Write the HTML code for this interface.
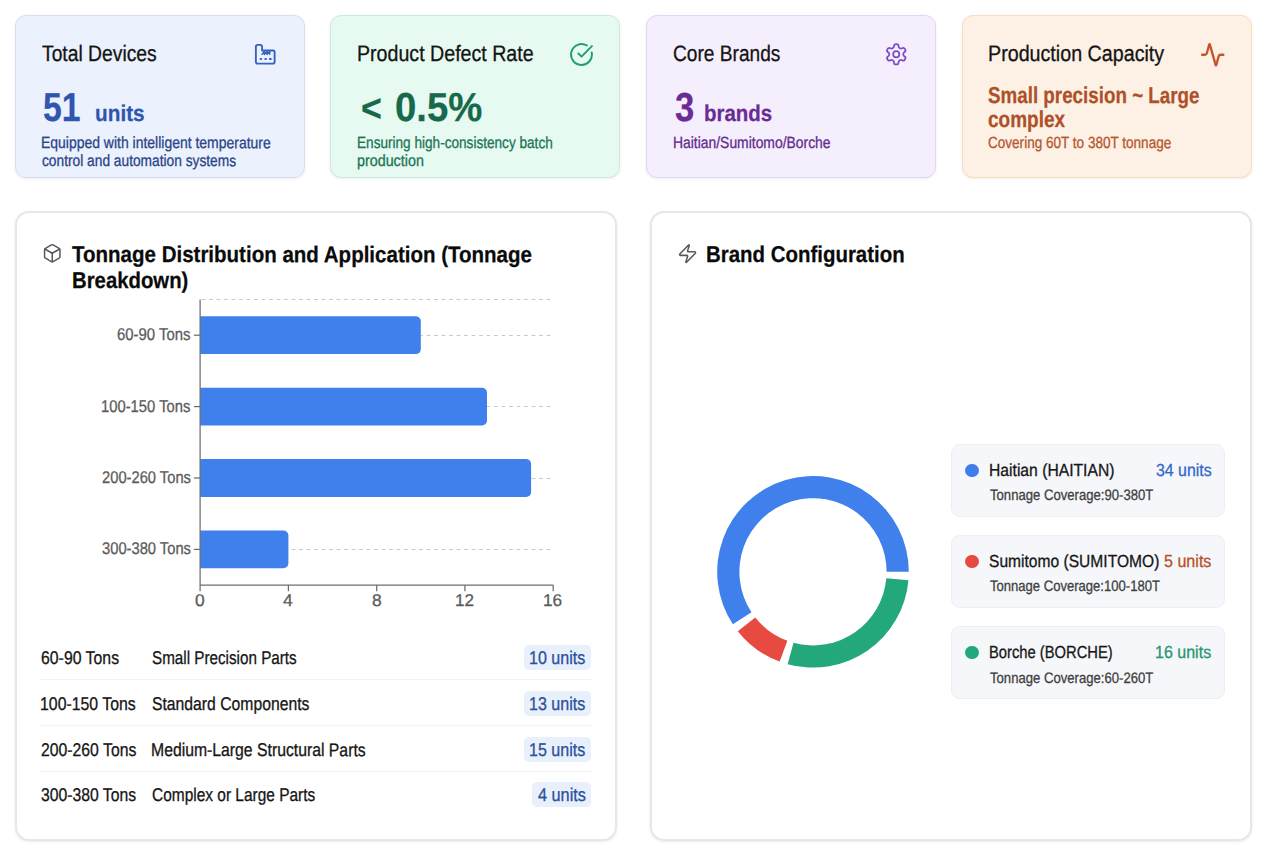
<!DOCTYPE html>
<html lang="en"><head><meta charset="utf-8"><title>Equipment Overview Dashboard</title>
<style>
html,body{margin:0;padding:0;background:#fff;}
body{width:1264px;height:848px;position:relative;overflow:hidden;font-family:"Liberation Sans",sans-serif;}
.card,.panel,.leg{position:absolute;box-sizing:border-box;border:1px solid;}
.card{border-radius:11px;box-shadow:0 1px 3px rgba(0,0,0,.07);}
.panel{border-width:2px;border-color:#e6e7ed;border-radius:14px;background:#fff;box-shadow:0 1px 3px rgba(0,0,0,.08);}
.leg{border-color:#eceef2;border-radius:9px;background:#f5f7fa;}
.t{position:absolute;white-space:pre;line-height:1;font-weight:400;transform-origin:0 0;}
.t.b{font-weight:700;}
.ico{position:absolute;display:block;fill:none;stroke-linecap:round;stroke-linejoin:round;}
.chart{position:absolute;display:block;}
.badge{position:absolute;height:25px;border-radius:5px;background:#e8f0fc;}
.div{position:absolute;width:550px;height:1px;background:#f2f3f5;}
.dot{position:absolute;width:13.6px;height:13.6px;border-radius:50%;}
</style></head><body>
<div class="card" style="left:15px;top:15px;width:290px;height:163px;background:#ecf2fd;border-color:#d7def2">
<svg class="ico" style="left:237.90px;top:27.05px;stroke:#3562c0;stroke-width:2.0" width="22.5" height="22.5" viewBox="0 0 24 24"><path d="M2 20a2 2 0 0 0 2 2h16a2 2 0 0 0 2-2V9.6A1.6 1.6 0 0 0 20.4 8H8.6V4a2 2 0 0 0-2-2H4a2 2 0 0 0-2 2Z"/><path d="M8.6 12.2l2.4-3.4v3.4l2.9-3.4v3.4l2.9-3.4v3.2" stroke-width="1.5"/><path d="M7 17h.8"/><path d="M12 17h.8"/><path d="M16.8 17h1.2"/></svg>
<span class="t" style="left:25.97px;top:26.98px;font-size:22.3px;color:#141414;-webkit-text-stroke:0.3px #141414;transform:matrix(0.8648,0.0006,0,1,0,0)">Total Devices</span>
<span class="t b" style="left:27.26px;top:70.94px;font-size:40.5px;color:#2f55b0;-webkit-text-stroke:0.25px #2f55b0;transform:matrix(0.8327,0.0006,0,1,0,0)">51</span>
<span class="t b" style="left:79.33px;top:86.04px;font-size:22.8px;color:#2f55b0;-webkit-text-stroke:0.25px #2f55b0;transform:matrix(0.9115,0.0006,0,1,0,0)">units</span>
<span class="t" style="left:25.32px;top:117.96px;font-size:16.2px;color:#2a4488;-webkit-text-stroke:0.3px #2a4488;transform:matrix(0.8624,0.0006,0,1,0,0)">Equipped with intelligent temperature</span>
<span class="t" style="left:25.76px;top:135.96px;font-size:16.2px;color:#2a4488;-webkit-text-stroke:0.3px #2a4488;transform:matrix(0.8493,0.0006,0,1,0,0)">control and automation systems</span>
</div>
<div class="card" style="left:330px;top:15px;width:290px;height:163px;background:#e7faf1;border-color:#c8ecdb">
<svg class="ico" style="left:238.05px;top:25.55px;stroke:#1f9f70;stroke-width:1.9" width="25" height="25" viewBox="0 0 24 24"><path d="M21.801 10A10 10 0 1 1 17 3.335"/><path d="m9 11 3 3L22 4"/></svg>
<span class="t" style="left:25.56px;top:26.98px;font-size:22.3px;color:#141414;-webkit-text-stroke:0.3px #141414;transform:matrix(0.8798,0.0006,0,1,0,0)">Product Defect Rate</span>
<span class="t b" style="left:29.59px;top:72.94px;font-size:38px;color:#17694b;-webkit-text-stroke:0.25px #17694b;transform:matrix(0.9403,0.0006,0,1,0,0)">&lt;</span>
<span class="t b" style="left:63.88px;top:70.94px;font-size:40.5px;color:#17694b;-webkit-text-stroke:0.25px #17694b;transform:matrix(0.9460,0.0006,0,1,0,0)">0.5%</span>
<span class="t" style="left:26.05px;top:117.96px;font-size:16.2px;color:#1b7553;-webkit-text-stroke:0.3px #1b7553;transform:matrix(0.8399,0.0006,0,1,0,0)">Ensuring high-consistency batch</span>
<span class="t" style="left:26.22px;top:135.96px;font-size:16.2px;color:#1b7553;-webkit-text-stroke:0.3px #1b7553;transform:matrix(0.8844,0.0006,0,1,0,0)">production</span>
</div>
<div class="card" style="left:646px;top:15px;width:290px;height:163px;background:#f5effd;border-color:#e3d5f6">
<svg class="ico" style="left:237.15px;top:26.05px;stroke:#7d4cc2;stroke-width:1.7" width="24.5" height="24.5" viewBox="0 0 24 24"><path d="M12.22 2h-.44a2 2 0 0 0-2 2v.18a2 2 0 0 1-1 1.73l-.43.25a2 2 0 0 1-2 0l-.15-.08a2 2 0 0 0-2.73.73l-.22.38a2 2 0 0 0 .73 2.73l.15.1a2 2 0 0 1 1 1.72v.51a2 2 0 0 1-1 1.74l-.15.09a2 2 0 0 0-.73 2.73l.22.38a2 2 0 0 0 2.73.73l.15-.08a2 2 0 0 1 2 0l.43.25a2 2 0 0 1 1 1.73V20a2 2 0 0 0 2 2h.44a2 2 0 0 0 2-2v-.18a2 2 0 0 1 1-1.73l.43-.25a2 2 0 0 1 2 0l.15.08a2 2 0 0 0 2.73-.73l.22-.39a2 2 0 0 0-.73-2.73l-.15-.08a2 2 0 0 1-1-1.74v-.5a2 2 0 0 1 1-1.74l.15-.09a2 2 0 0 0 .73-2.73l-.22-.38a2 2 0 0 0-2.73-.73l-.15.08a2 2 0 0 1-2 0l-.43-.25a2 2 0 0 1-1-1.73V4a2 2 0 0 0-2-2z"/><circle cx="12" cy="12" r="3"/></svg>
<span class="t" style="left:25.53px;top:26.98px;font-size:22.3px;color:#141414;-webkit-text-stroke:0.3px #141414;transform:matrix(0.8577,0.0006,0,1,0,0)">Core Brands</span>
<span class="t b" style="left:27.75px;top:70.94px;font-size:40.5px;color:#6a2b94;-webkit-text-stroke:0.25px #6a2b94;transform:matrix(0.8550,0.0006,0,1,0,0)">3</span>
<span class="t b" style="left:57.35px;top:86.04px;font-size:22.8px;color:#6a2b94;-webkit-text-stroke:0.25px #6a2b94;transform:matrix(0.8980,0.0006,0,1,0,0)">brands</span>
<span class="t" style="left:25.93px;top:117.96px;font-size:16.2px;color:#632b8e;-webkit-text-stroke:0.3px #632b8e;transform:matrix(0.8584,0.0006,0,1,0,0)">Haitian/Sumitomo/Borche</span>
</div>
<div class="card" style="left:962px;top:15px;width:290px;height:163px;background:#fdf1e5;border-color:#fadcbf">
<svg class="ico" style="left:236.75px;top:25.50px;stroke:#c4562a;stroke-width:2.2" width="25.5" height="25.5" viewBox="0 0 24 24"><path d="M22 12h-2.48a2 2 0 0 0-1.93 1.46l-2.35 8.36a.25.25 0 0 1-.48 0L9.24 2.18a.25.25 0 0 0-.48 0l-2.35 8.36A2 2 0 0 1 4.49 12H2"/></svg>
<span class="t" style="left:25.05px;top:26.98px;font-size:22.3px;color:#141414;-webkit-text-stroke:0.3px #141414;transform:matrix(0.8829,0.0006,0,1,0,0)">Production Capacity</span>
<span class="t b" style="left:25.49px;top:67.94px;font-size:23px;color:#ae5028;-webkit-text-stroke:0.25px #ae5028;transform:matrix(0.8171,0.0006,0,1,0,0)">Small precision ~ Large</span>
<span class="t b" style="left:25.27px;top:91.94px;font-size:23px;color:#ae5028;-webkit-text-stroke:0.25px #ae5028;transform:matrix(0.8261,0.0006,0,1,0,0)">complex</span>
<span class="t" style="left:25.47px;top:117.96px;font-size:16.2px;color:#b5562c;-webkit-text-stroke:0.3px #b5562c;transform:matrix(0.8368,0.0006,0,1,0,0)">Covering 60T to 380T tonnage</span>
</div>
<div class="panel" style="left:15px;top:211px;width:602px;height:630px;">
<svg class="ico" style="left:25.05px;top:30.25px;stroke:#55585e;stroke-width:1.75" width="20.5" height="20.5" viewBox="0 0 24 24"><path d="M21 8a2 2 0 0 0-1-1.73l-7-4a2 2 0 0 0-2 0l-7 4A2 2 0 0 0 3 8v8a2 2 0 0 0 1 1.73l7 4a2 2 0 0 0 2 0l7-4A2 2 0 0 0 21 16Z"/><path d="m3.3 7 8.7 5 8.7-5"/><path d="M12 22V12"/></svg>
<svg class="chart" style="left:173px;top:79px" width="372" height="302" viewBox="190 292 372 302">
<line x1="201.6" x2="552.2" y1="299.5" y2="299.5" stroke="#c3c7ce" stroke-width="1" stroke-dasharray="3.75 3.75"/>
<line x1="201.6" x2="552.2" y1="335.5" y2="335.5" stroke="#c3c7ce" stroke-width="1" stroke-dasharray="3.75 3.75"/>
<line x1="201.6" x2="552.2" y1="406.5" y2="406.5" stroke="#c3c7ce" stroke-width="1" stroke-dasharray="3.75 3.75"/>
<line x1="201.6" x2="552.2" y1="478.5" y2="478.5" stroke="#c3c7ce" stroke-width="1" stroke-dasharray="3.75 3.75"/>
<line x1="201.6" x2="552.2" y1="549.5" y2="549.5" stroke="#c3c7ce" stroke-width="1" stroke-dasharray="3.75 3.75"/>
<path d="M200.1,316.3H415.8A5,5 0 0 1 420.8,321.3V349.1A5,5 0 0 1 415.8,354.1H200.1Z" fill="#3f80ec"/>
<path d="M200.1,387.7H482.0A5,5 0 0 1 487.0,392.7V420.5A5,5 0 0 1 482.0,425.5H200.1Z" fill="#3f80ec"/>
<path d="M200.1,459.1H526.1A5,5 0 0 1 531.1,464.1V491.9A5,5 0 0 1 526.1,496.9H200.1Z" fill="#3f80ec"/>
<path d="M200.1,530.5H283.4A5,5 0 0 1 288.4,535.5V563.3A5,5 0 0 1 283.4,568.3H200.1Z" fill="#3f80ec"/>
<line x1="200.1" x2="200.1" y1="299.5" y2="585.1" stroke="#6e6e6e" stroke-width="1.25"/>
<line x1="200.1" x2="553.2" y1="585.1" y2="585.1" stroke="#6e6e6e" stroke-width="1.25"/>
<line x1="193.9" x2="200.1" y1="335.2" y2="335.2" stroke="#6e6e6e" stroke-width="1.25"/>
<line x1="193.9" x2="200.1" y1="406.6" y2="406.6" stroke="#6e6e6e" stroke-width="1.25"/>
<line x1="193.9" x2="200.1" y1="478.0" y2="478.0" stroke="#6e6e6e" stroke-width="1.25"/>
<line x1="193.9" x2="200.1" y1="549.4" y2="549.4" stroke="#6e6e6e" stroke-width="1.25"/>
<line x1="200.1" x2="200.1" y1="585.1" y2="591.3" stroke="#6e6e6e" stroke-width="1.25"/>
<line x1="288.4" x2="288.4" y1="585.1" y2="591.3" stroke="#6e6e6e" stroke-width="1.25"/>
<line x1="376.7" x2="376.7" y1="585.1" y2="591.3" stroke="#6e6e6e" stroke-width="1.25"/>
<line x1="464.9" x2="464.9" y1="585.1" y2="591.3" stroke="#6e6e6e" stroke-width="1.25"/>
<line x1="553.2" x2="553.2" y1="585.1" y2="591.3" stroke="#6e6e6e" stroke-width="1.25"/>
</svg>
<div class="badge" style="left:506.6px;top:432.0px;width:67.3px"></div>
<div class="div" style="left:24px;top:466px"></div>
<div class="badge" style="left:506.6px;top:477.7px;width:67.3px"></div>
<div class="div" style="left:24px;top:512px"></div>
<div class="badge" style="left:506.6px;top:523.5px;width:67.3px"></div>
<div class="div" style="left:24px;top:558px"></div>
<div class="badge" style="left:515.3px;top:569.3px;width:58.6px"></div>
<span class="t b" style="left:54.78px;top:29.99px;font-size:22.9px;color:#0a0a0a;-webkit-text-stroke:0.25px #0a0a0a;transform:matrix(0.8960,0.0006,0,1,0,0)">Tonnage Distribution and Application (Tonnage</span>
<span class="t b" style="left:54.67px;top:55.99px;font-size:22.9px;color:#0a0a0a;-webkit-text-stroke:0.25px #0a0a0a;transform:matrix(0.8881,0.0006,0,1,0,0)">Breakdown)</span>
<span class="t" style="left:100.04px;top:112.94px;font-size:17px;color:#5c5c5c;-webkit-text-stroke:0.3px #5c5c5c;transform:matrix(0.8764,0.0006,0,1,0,0)">60-90 Tons</span>
<span class="t" style="left:84.21px;top:184.94px;font-size:17px;color:#5c5c5c;-webkit-text-stroke:0.3px #5c5c5c;transform:matrix(0.8705,0.0006,0,1,0,0)">100-150 Tons</span>
<span class="t" style="left:84.65px;top:255.94px;font-size:17px;color:#5c5c5c;-webkit-text-stroke:0.3px #5c5c5c;transform:matrix(0.8662,0.0006,0,1,0,0)">200-260 Tons</span>
<span class="t" style="left:84.65px;top:326.94px;font-size:17px;color:#5c5c5c;-webkit-text-stroke:0.3px #5c5c5c;transform:matrix(0.8662,0.0006,0,1,0,0)">300-380 Tons</span>
<span class="t" style="left:178.23px;top:378.94px;font-size:17px;color:#5c5c5c;-webkit-text-stroke:0.3px #5c5c5c;transform:matrix(1.0250,0.0006,0,1,0,0)">0</span>
<span class="t" style="left:266.46px;top:378.94px;font-size:17px;color:#5c5c5c;-webkit-text-stroke:0.3px #5c5c5c;transform:matrix(1.0353,0.0006,0,1,0,0)">4</span>
<span class="t" style="left:354.79px;top:378.94px;font-size:17px;color:#5c5c5c;-webkit-text-stroke:0.3px #5c5c5c;transform:matrix(1.0250,0.0006,0,1,0,0)">8</span>
<span class="t" style="left:438.23px;top:378.94px;font-size:17px;color:#5c5c5c;-webkit-text-stroke:0.3px #5c5c5c;transform:matrix(1.0090,0.0006,0,1,0,0)">12</span>
<span class="t" style="left:526.36px;top:378.94px;font-size:17px;color:#5c5c5c;-webkit-text-stroke:0.3px #5c5c5c;transform:matrix(1.0118,0.0006,0,1,0,0)">16</span>
<span class="t" style="left:23.54px;top:435.88px;font-size:18.5px;color:#161616;-webkit-text-stroke:0.3px #161616;transform:matrix(0.8559,0.0006,0,1,0,0)">60-90 Tons</span>
<span class="t" style="left:134.88px;top:435.88px;font-size:18.5px;color:#161616;-webkit-text-stroke:0.3px #161616;transform:matrix(0.8230,0.0006,0,1,0,0)">Small Precision Parts</span>
<span class="t" style="left:512.20px;top:435.88px;font-size:18.5px;color:#2b4f9e;-webkit-text-stroke:0.3px #2b4f9e;transform:matrix(0.8685,0.0006,0,1,0,0)">10 units</span>
<span class="t" style="left:23.12px;top:481.88px;font-size:18.5px;color:#161616;-webkit-text-stroke:0.3px #161616;transform:matrix(0.8566,0.0006,0,1,0,0)">100-150 Tons</span>
<span class="t" style="left:134.85px;top:481.88px;font-size:18.5px;color:#161616;-webkit-text-stroke:0.3px #161616;transform:matrix(0.8501,0.0006,0,1,0,0)">Standard Components</span>
<span class="t" style="left:512.20px;top:481.88px;font-size:18.5px;color:#2b4f9e;-webkit-text-stroke:0.3px #2b4f9e;transform:matrix(0.8685,0.0006,0,1,0,0)">13 units</span>
<span class="t" style="left:23.55px;top:527.88px;font-size:18.5px;color:#161616;-webkit-text-stroke:0.3px #161616;transform:matrix(0.8527,0.0006,0,1,0,0)">200-260 Tons</span>
<span class="t" style="left:134.42px;top:527.88px;font-size:18.5px;color:#161616;-webkit-text-stroke:0.3px #161616;transform:matrix(0.8521,0.0006,0,1,0,0)">Medium-Large Structural Parts</span>
<span class="t" style="left:512.20px;top:527.88px;font-size:18.5px;color:#2b4f9e;-webkit-text-stroke:0.3px #2b4f9e;transform:matrix(0.8685,0.0006,0,1,0,0)">15 units</span>
<span class="t" style="left:23.76px;top:572.88px;font-size:18.5px;color:#161616;-webkit-text-stroke:0.3px #161616;transform:matrix(0.8508,0.0006,0,1,0,0)">300-380 Tons</span>
<span class="t" style="left:134.86px;top:572.88px;font-size:18.5px;color:#161616;-webkit-text-stroke:0.3px #161616;transform:matrix(0.8356,0.0006,0,1,0,0)">Complex or Large Parts</span>
<span class="t" style="left:520.76px;top:572.88px;font-size:18.5px;color:#2b4f9e;-webkit-text-stroke:0.3px #2b4f9e;transform:matrix(0.8789,0.0006,0,1,0,0)">4 units</span>
</div>
<div class="panel" style="left:650px;top:211px;width:602px;height:630px;">
<svg class="ico" style="left:24.85px;top:30.20px;stroke:#55585e;stroke-width:1.75" width="21.2" height="21.2" viewBox="0 0 24 24"><path d="M4 14a1 1 0 0 1-.78-1.63l9.9-10.2a.5.5 0 0 1 .86.46l-1.92 6.02A1 1 0 0 0 13 10h7a1 1 0 0 1 .78 1.63l-9.9 10.2a.5.5 0 0 1-.86-.46l1.92-6.02A1 1 0 0 0 11 14z"/></svg>
<svg class="chart" style="left:60px;top:257px" width="202" height="204" viewBox="712 470 202 204">
<path d="M908.80,571.80A95.8,95.8 0 1 0 732.90,624.36L751.47,612.18A73.6,73.6 0 1 1 886.60,571.80Z" fill="#3f80ec"/>
<path d="M737.79,631.14A95.8,95.8 0 0 0 779.66,661.61L787.39,640.80A73.6,73.6 0 0 1 755.22,617.39Z" fill="#e64a40"/>
<path d="M787.62,664.18A95.8,95.8 0 0 0 908.44,580.15L886.32,578.21A73.6,73.6 0 0 1 793.50,642.77Z" fill="#22a87b"/>
</svg>
<span class="t b" style="left:54.16px;top:29.99px;font-size:22.9px;color:#0a0a0a;-webkit-text-stroke:0.25px #0a0a0a;transform:matrix(0.8928,0.0006,0,1,0,0)">Brand Configuration</span>
<div class="leg" style="left:299px;top:231px;width:274px;height:73px;">
<span class="dot" style="left:13.2px;top:18.5px;background:#3f7fea"></span>
<span class="t" style="left:36.86px;top:16.88px;font-size:17.5px;color:#161616;-webkit-text-stroke:0.3px #161616;transform:matrix(0.8960,0.0006,0,1,0,0)">Haitian (HAITIAN)</span>
<span class="t" style="left:203.62px;top:16.88px;font-size:17.5px;color:#3467cb;-webkit-text-stroke:0.3px #3467cb;transform:matrix(0.9083,0.0006,0,1,0,0)">34 units</span>
<span class="t" style="left:37.98px;top:41.96px;font-size:15.2px;color:#3f3f3f;-webkit-text-stroke:0.3px #3f3f3f;transform:matrix(0.8637,0.0006,0,1,0,0)">Tonnage Coverage:90-380T</span>
</div>
<div class="leg" style="left:299px;top:322px;width:274px;height:73px;">
<span class="dot" style="left:13.2px;top:18.5px;background:#e64a40"></span>
<span class="t" style="left:37.31px;top:16.88px;font-size:17.5px;color:#161616;-webkit-text-stroke:0.3px #161616;transform:matrix(0.8910,0.0006,0,1,0,0)">Sumitomo (SUMITOMO)</span>
<span class="t" style="left:211.91px;top:16.88px;font-size:17.5px;color:#b8502a;-webkit-text-stroke:0.3px #b8502a;transform:matrix(0.9194,0.0006,0,1,0,0)">5 units</span>
<span class="t" style="left:37.99px;top:41.96px;font-size:15.2px;color:#3f3f3f;-webkit-text-stroke:0.3px #3f3f3f;transform:matrix(0.8599,0.0006,0,1,0,0)">Tonnage Coverage:100-180T</span>
</div>
<div class="leg" style="left:299px;top:413px;width:274px;height:73px;">
<span class="dot" style="left:13.2px;top:18.5px;background:#22a87b"></span>
<span class="t" style="left:36.94px;top:16.88px;font-size:17.5px;color:#161616;-webkit-text-stroke:0.3px #161616;transform:matrix(0.8423,0.0006,0,1,0,0)">Borche (BORCHE)</span>
<span class="t" style="left:203.16px;top:16.88px;font-size:17.5px;color:#27966e;-webkit-text-stroke:0.3px #27966e;transform:matrix(0.9160,0.0006,0,1,0,0)">16 units</span>
<span class="t" style="left:37.98px;top:42.96px;font-size:15.2px;color:#3f3f3f;-webkit-text-stroke:0.3px #3f3f3f;transform:matrix(0.8637,0.0006,0,1,0,0)">Tonnage Coverage:60-260T</span>
</div>
</div>
</body></html>
